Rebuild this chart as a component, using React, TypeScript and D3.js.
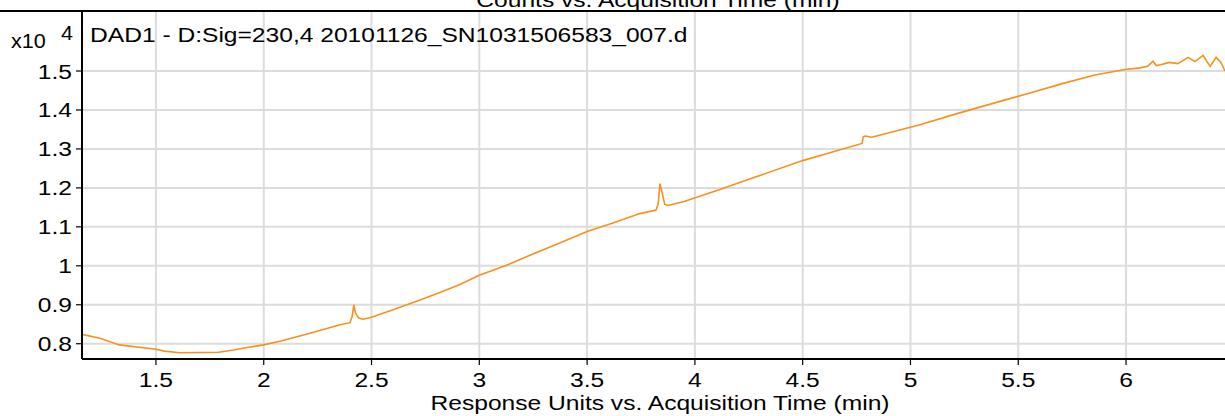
import React, { useEffect, useRef } from "react";
import * as d3 from "d3";

// acquisition time (min) and response (x10^4)
const times = [
  1.157, 1.24, 1.33, 1.5, 1.54, 1.61, 1.79, 1.86, 1.93, 2.0, 2.08, 2.18, 2.26,
  2.35, 2.4, 2.41, 2.418, 2.425, 2.44, 2.46, 2.5, 2.6, 2.725, 2.82, 2.91, 3.0,
  3.12, 3.235, 3.37, 3.5, 3.62, 3.745, 3.82, 3.83, 3.838, 3.845, 3.86, 3.875,
  3.95, 4.116, 4.25, 4.5, 4.65, 4.775, 4.781, 4.79, 4.82, 5.044, 5.2, 5.415,
  5.55, 5.7, 5.85, 5.995, 6.065, 6.1, 6.125, 6.14, 6.16, 6.2, 6.24, 6.288,
  6.32, 6.357, 6.39, 6.418, 6.44, 6.459,
];
const values = [
  0.824, 0.814, 0.797, 0.786, 0.781, 0.777, 0.778, 0.784, 0.791, 0.797, 0.807,
  0.822, 0.834, 0.848, 0.854, 0.87, 0.9, 0.88, 0.866, 0.863, 0.868, 0.887,
  0.912, 0.932, 0.952, 0.976, 1.0, 1.027, 1.058, 1.088, 1.11, 1.134, 1.143,
  1.16, 1.211, 1.195, 1.158, 1.155, 1.165, 1.196, 1.222, 1.27, 1.294, 1.314,
  1.331, 1.333, 1.33, 1.362, 1.388, 1.422, 1.443, 1.467, 1.489, 1.504, 1.508,
  1.512, 1.525, 1.514, 1.516, 1.522, 1.519, 1.535, 1.524, 1.54, 1.512, 1.535,
  1.522, 1.5,
];
const xTicks = [1.5, 2, 2.5, 3, 3.5, 4, 4.5, 5, 5.5, 6];
const yTicks = [0.8, 0.9, 1, 1.1, 1.2, 1.3, 1.4, 1.5];
const xTickLabels = ["1.5", "2", "2.5", "3", "3.5", "4", "4.5", "5", "5.5", "6"];
const yTickLabels = ["0.8", "0.9", "1", "1.1", "1.2", "1.3", "1.4", "1.5"];

const width = 1225;
const height = 416;
const margin = { top: 11, right: 0, bottom: 57, left: 82 };
const font = "'Liberation Sans', Arial, sans-serif";
const fs = 20.5;
const sx = 1.2; // the original text is drawn a little wide

function Chart() {
  const svgRef = useRef<SVGSVGElement>(null);

  useEffect(() => {
    const x = d3
      .scaleLinear()
      .domain([1.157, 6.459])
      .range([margin.left, width - margin.right]);
    const y = d3
      .scaleLinear()
      .domain([0.7608, 1.654])
      .range([height - margin.bottom, margin.top]);

    const svg = d3.select(svgRef.current);
    svg.selectAll("*").remove();

    const plotBottom = height - margin.bottom;

    const txt = (
      s: string,
      tx: number,
      ty: number,
      anchor = "start",
      size = fs,
      scl = sx
    ) =>
      svg
        .append("text")
        .attr("transform", `translate(${tx},${ty}) scale(${scl},1)`)
        .attr("text-anchor", anchor)
        .attr("font-family", font)
        .attr("font-size", size)
        .attr("fill", "#000")
        .text(s);

    // gridlines
    svg
      .append("g")
      .selectAll("line")
      .data(xTicks)
      .join("line")
      .attr("x1", (d) => x(d))
      .attr("x2", (d) => x(d))
      .attr("y1", margin.top)
      .attr("y2", plotBottom)
      .attr("stroke", "#dcdcdc")
      .attr("stroke-width", 2);
    svg
      .append("g")
      .selectAll("line")
      .data(yTicks)
      .join("line")
      .attr("x1", margin.left)
      .attr("x2", width)
      .attr("y1", (d) => y(d))
      .attr("y2", (d) => y(d))
      .attr("stroke", "#dcdcdc")
      .attr("stroke-width", 2);

    svg
      .append("clipPath")
      .attr("id", "plotclip")
      .append("rect")
      .attr("x", margin.left)
      .attr("y", margin.top)
      .attr("width", width - margin.left)
      .attr("height", plotBottom - margin.top);

    const pts = times.map((t, i) => [t, values[i]] as [number, number]);
    const line = d3
      .line<[number, number]>()
      .x((d) => x(d[0]))
      .y((d) => y(d[1]));
    svg
      .append("path")
      .datum(pts)
      .attr("clip-path", "url(#plotclip)")
      .attr("fill", "none")
      .attr("stroke", "#f7901e")
      .attr("stroke-width", 1.6)
      .attr("d", line);

    // tick marks + labels
    svg
      .append("g")
      .selectAll("line")
      .data(xTicks)
      .join("line")
      .attr("x1", (d) => x(d))
      .attr("x2", (d) => x(d))
      .attr("y1", plotBottom)
      .attr("y2", plotBottom + 6)
      .attr("stroke", "#000")
      .attr("stroke-width", 1.2);
    xTicks.forEach((t, i) => txt(xTickLabels[i], x(t), 387, "middle"));

    svg
      .append("g")
      .selectAll("line")
      .data(yTicks)
      .join("line")
      .attr("x1", margin.left - 6)
      .attr("x2", margin.left)
      .attr("y1", (d) => y(d))
      .attr("y2", (d) => y(d))
      .attr("stroke", "#000")
      .attr("stroke-width", 1.2);
    yTicks.forEach((t, i) => txt(yTickLabels[i], 72, y(t) + 7.5, "end"));

    // frame
    svg
      .append("line")
      .attr("x1", margin.left)
      .attr("x2", width)
      .attr("y1", plotBottom)
      .attr("y2", plotBottom)
      .attr("stroke", "#000")
      .attr("stroke-width", 2);
    svg
      .append("line")
      .attr("x1", margin.left)
      .attr("x2", margin.left)
      .attr("y1", margin.top)
      .attr("y2", plotBottom)
      .attr("stroke", "#000")
      .attr("stroke-width", 2);
    svg
      .append("line")
      .attr("x1", 0)
      .attr("x2", width)
      .attr("y1", margin.top)
      .attr("y2", margin.top)
      .attr("stroke", "#000")
      .attr("stroke-width", 2);

    // titles
    txt("Counts vs. Acquisition Time (min)", 658, 7, "middle");
    txt("DAD1 - D:Sig=230,4 20101126_SN1031506583_007.d", 90, 42);
    txt("x10", 11, 48, "start", 20, 1.08);
    txt("4", 61, 40, "start", 20, 1.08);
    txt("Response Units vs. Acquisition Time (min)", 660, 410, "middle");
  }, []);

  return (
    <svg
      ref={svgRef}
      width={width}
      height={height}
      style={{ position: "absolute", left: 0, top: 0, background: "#fff" }}
    />
  );
}

export default function App() {
  return <Chart />;
}
